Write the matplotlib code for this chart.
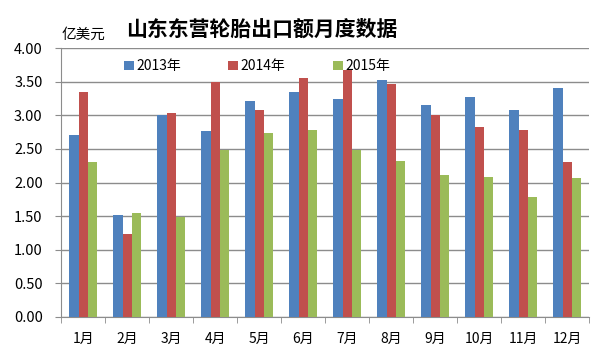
import matplotlib
matplotlib.use("Agg")
import matplotlib.pyplot as plt
import numpy as np

plt.rcParams['font.family'] = ['Noto Sans CJK SC', 'DejaVu Sans']

months = ["1月", "2月", "3月", "4月", "5月", "6月", "7月", "8月", "9月", "10月", "11月", "12月"]
series_names = ["2013年", "2014年", "2015年"]
v2013 = [2.71, 1.52, 3.00, 2.76, 3.21, 3.35, 3.24, 3.53, 3.15, 3.28, 3.08, 3.40]
v2014 = [3.35, 1.23, 3.03, 3.50, 3.08, 3.56, 3.68, 3.47, 3.00, 2.82, 2.78, 2.30]
v2015 = [2.31, 1.55, 1.49, 2.49, 2.74, 2.78, 2.49, 2.32, 2.11, 2.09, 1.79, 2.07]
colors = ["#4F81BD", "#C0504D", "#9BBB59"]
yticks = [0.0, 0.5, 1.0, 1.5, 2.0, 2.5, 3.0, 3.5, 4.0]

fig = plt.figure(figsize=(6, 3.59), dpi=100)
ax = fig.add_axes([0.102, 0.117, 0.880, 0.749])

x = np.arange(len(months))
w = 0.21
for i, (vals, c, name) in enumerate(zip([v2013, v2014, v2015], colors, series_names)):
    ax.bar(x + (i - 1) * w, vals, width=w, color=c, label=name, zorder=3)

ax.set_xlim(-0.5, len(months) - 0.5)
ax.set_ylim(0, 4.0)
ax.set_yticks(yticks)
ax.set_yticklabels([f"{t:.2f}" for t in yticks], fontsize=10.5)
ax.yaxis.grid(True, color="#8c8c8c", linewidth=1.0, zorder=0)
ax.tick_params(axis='y', length=4.3, color="#8c8c8c", pad=9)
ax.set_xticks(x)
ax.set_xticklabels(months, fontsize=10)
ax.tick_params(axis='x', length=0, pad=11)
ax.set_xticks(np.arange(len(months) + 1) - 0.5, minor=True)
ax.tick_params(axis='x', which='minor', length=4, color="#8c8c8c")
for s in ['top', 'right']:
    ax.spines[s].set_visible(False)
ax.spines['left'].set_color("#8c8c8c")
ax.spines['bottom'].set_color("#8c8c8c")

ax.legend(loc='upper left', bbox_to_anchor=(0.095, 1.005), ncol=3, frameon=False,
          fontsize=10, handlelength=0.7, handleheight=0.7, handletextpad=0.2,
          columnspacing=3.4)

fig.text(0.437, 0.92, "山东东营轮胎出口额月度数据", ha='center', va='center',
         fontsize=15, fontweight='bold')
fig.text(0.102, 0.902, "亿美元", ha='left', va='center', fontsize=10.5)

fig.savefig("out.png", dpi=100)
